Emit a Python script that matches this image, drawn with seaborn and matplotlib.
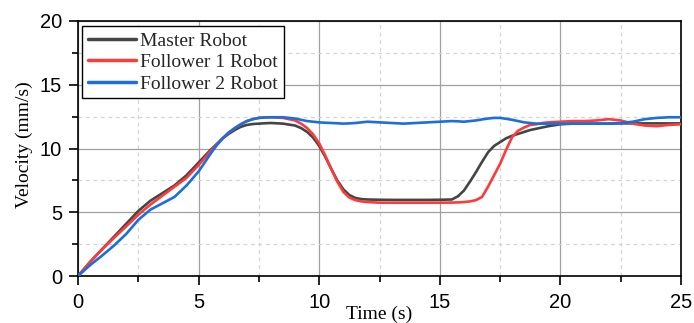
import numpy as np
import pandas as pd
import matplotlib
matplotlib.use("Agg")
import matplotlib.pyplot as plt
import seaborn as sns
from matplotlib.ticker import MultipleLocator

# ---- data ----
time_s = [0.0, 0.5, 1.0, 1.5, 2.0, 2.5, 3.0, 3.5, 4.0, 4.5,
          5.0, 5.25, 5.5, 5.75, 6.0, 6.25, 6.5, 6.75, 7.0, 7.25, 7.5, 7.75, 8.0,
          8.5,
          9.0, 9.25, 9.5, 9.75, 10.0, 10.25, 10.5, 10.75, 11.0, 11.25, 11.5, 11.75, 12.0,
          12.5, 13.0, 13.5, 14.0, 14.5, 15.0,
          15.5, 15.75, 16.0, 16.25, 16.5, 16.75, 17.0, 17.25, 17.5, 17.75, 18.0, 18.25,
          18.5, 18.75, 19.0, 19.25, 19.5,
          20.0, 20.5, 21.0, 21.5, 22.0, 22.5, 23.0, 23.5, 24.0, 24.5, 25.0]

master = [0.0, 1.1, 2.1, 3.1, 4.1, 5.1, 5.9, 6.5, 7.1, 7.9,
          8.9, 9.4, 9.9, 10.35, 10.8, 11.15, 11.45, 11.7, 11.85, 11.92, 11.95, 11.98, 12.0,
          11.95,
          11.8, 11.6, 11.3, 10.85, 10.2, 9.35, 8.4, 7.5, 6.8, 6.35, 6.12, 6.03, 6.0,
          5.98, 5.97, 5.97, 5.97, 5.97, 5.98,
          6.0, 6.25, 6.7, 7.4, 8.15, 8.95, 9.7, 10.2, 10.5, 10.8, 11.0, 11.15,
          11.3, 11.45, 11.55, 11.65, 11.75,
          11.9, 11.95, 11.95, 11.95, 11.95, 11.97, 11.97, 11.97, 11.97, 11.97, 11.97]

follower1 = [0.0, 1.1, 2.1, 3.0, 3.9, 4.8, 5.6, 6.3, 7.0, 7.7,
             8.7, 9.25, 9.8, 10.3, 10.8, 11.25, 11.6, 11.9, 12.15, 12.3, 12.4, 12.45, 12.45,
             12.4,
             12.2, 11.95, 11.6, 11.1, 10.4, 9.45, 8.4, 7.4, 6.6, 6.15, 5.95, 5.85, 5.8,
             5.75, 5.75, 5.75, 5.75, 5.75, 5.75,
             5.76, 5.77, 5.8, 5.85, 5.95, 6.2, 7.0, 7.9, 8.8, 9.9, 10.9, 11.4,
             11.65, 11.85, 11.9, 12.0, 12.05,
             12.1, 12.15, 12.15, 12.2, 12.3, 12.2, 11.95, 11.8, 11.75, 11.85, 11.9]

follower2 = [0.0, 0.85, 1.6, 2.4, 3.3, 4.4, 5.2, 5.7, 6.2, 7.1,
             8.2, 8.9, 9.6, 10.25, 10.8, 11.25, 11.6, 11.9, 12.15, 12.3, 12.4, 12.43, 12.45,
             12.45,
             12.35, 12.25, 12.15, 12.1, 12.05, 12.02, 12.0, 11.98, 11.95, 11.97, 12.0, 12.05, 12.1,
             12.05, 12.0, 11.95, 12.0, 12.05, 12.1,
             12.15, 12.13, 12.1, 12.15, 12.2, 12.28, 12.35, 12.4, 12.4, 12.33, 12.25, 12.15,
             12.05, 12.0, 11.95, 11.95, 11.95,
             11.95, 11.95, 11.95, 11.95, 11.95, 12.0, 12.1, 12.3, 12.4, 12.45, 12.45]

series_names = ["Master Robot", "Follower 1 Robot", "Follower 2 Robot"]
series_colors = ["#454545", "#ff3a3a", "#1a6fe0"]
x_ticks = [0, 5, 10, 15, 20, 25]
y_ticks = [0, 5, 10, 15, 20]

df = pd.concat([
    pd.DataFrame({"Time": time_s, "Velocity": vals, "Robot": name})
    for name, vals in zip(series_names, [master, follower1, follower2])
], ignore_index=True)

sns.set_theme(style="white")
plt.rcParams["font.family"] = ["Liberation Sans", "DejaVu Sans"]

fig = plt.figure(figsize=(6.94, 3.23), dpi=100)
ax = fig.add_axes([78 / 694, 1 - 276 / 323, (681 - 78) / 694, (276 - 21) / 323])

sns.lineplot(data=df, x="Time", y="Velocity", hue="Robot", hue_order=series_names,
             palette=dict(zip(series_names, series_colors)), linewidth=1.9, ax=ax,
             legend=True, zorder=3)

ax.set_xlim(0, 25)
ax.set_ylim(0, 20)
ax.set_xticks(x_ticks)
ax.set_yticks(y_ticks)
ax.xaxis.set_minor_locator(MultipleLocator(2.5))
ax.yaxis.set_minor_locator(MultipleLocator(2.5))

ax.grid(which="major", color="#a0a0a0", linestyle="-", linewidth=0.9, zorder=0)
ax.grid(which="minor", color="#d4d4d4", linestyle=(0, (3, 3)), linewidth=0.9, zorder=0)
ax.set_axisbelow(True)

for sp in ax.spines.values():
    sp.set_visible(True)
    sp.set_color("black")
    sp.set_linewidth(1.2)

ax.tick_params(axis="both", which="major", direction="out", length=6.5, width=1.2,
               labelsize=14.5, color="black", labelcolor="black")
ax.tick_params(axis="both", which="minor", direction="out", length=4, width=1.2, color="black")
ax.tick_params(axis="y", which="both", left=True, right=False)
ax.tick_params(axis="x", which="both", bottom=True, top=False)
ax.tick_params(axis="y", which="major", pad=5)
ax.tick_params(axis="x", which="major", pad=6)

serif = ["Liberation Serif", "DejaVu Serif"]
ax.set_xlabel("Time (s)", fontsize=14, family=serif, color="black")
ax.set_ylabel("Velocity (mm/s)", fontsize=14, family=serif, color="black")
ax.xaxis.set_label_coords(0.5, -0.115)
ax.yaxis.set_label_coords(-0.075, 0.517)

leg = ax.legend(loc="upper left", bbox_to_anchor=(0.0066, 0.980), borderaxespad=0,
                prop={"family": serif, "size": 14},
                frameon=True, fancybox=False, framealpha=1, edgecolor="black",
                handlelength=2.5, handletextpad=0.2, labelspacing=0.2, borderpad=0.3)
leg.get_frame().set_linewidth(1.0)
for line in leg.get_lines():
    line.set_linewidth(2.5)

fig.savefig("out.png", dpi=100)
